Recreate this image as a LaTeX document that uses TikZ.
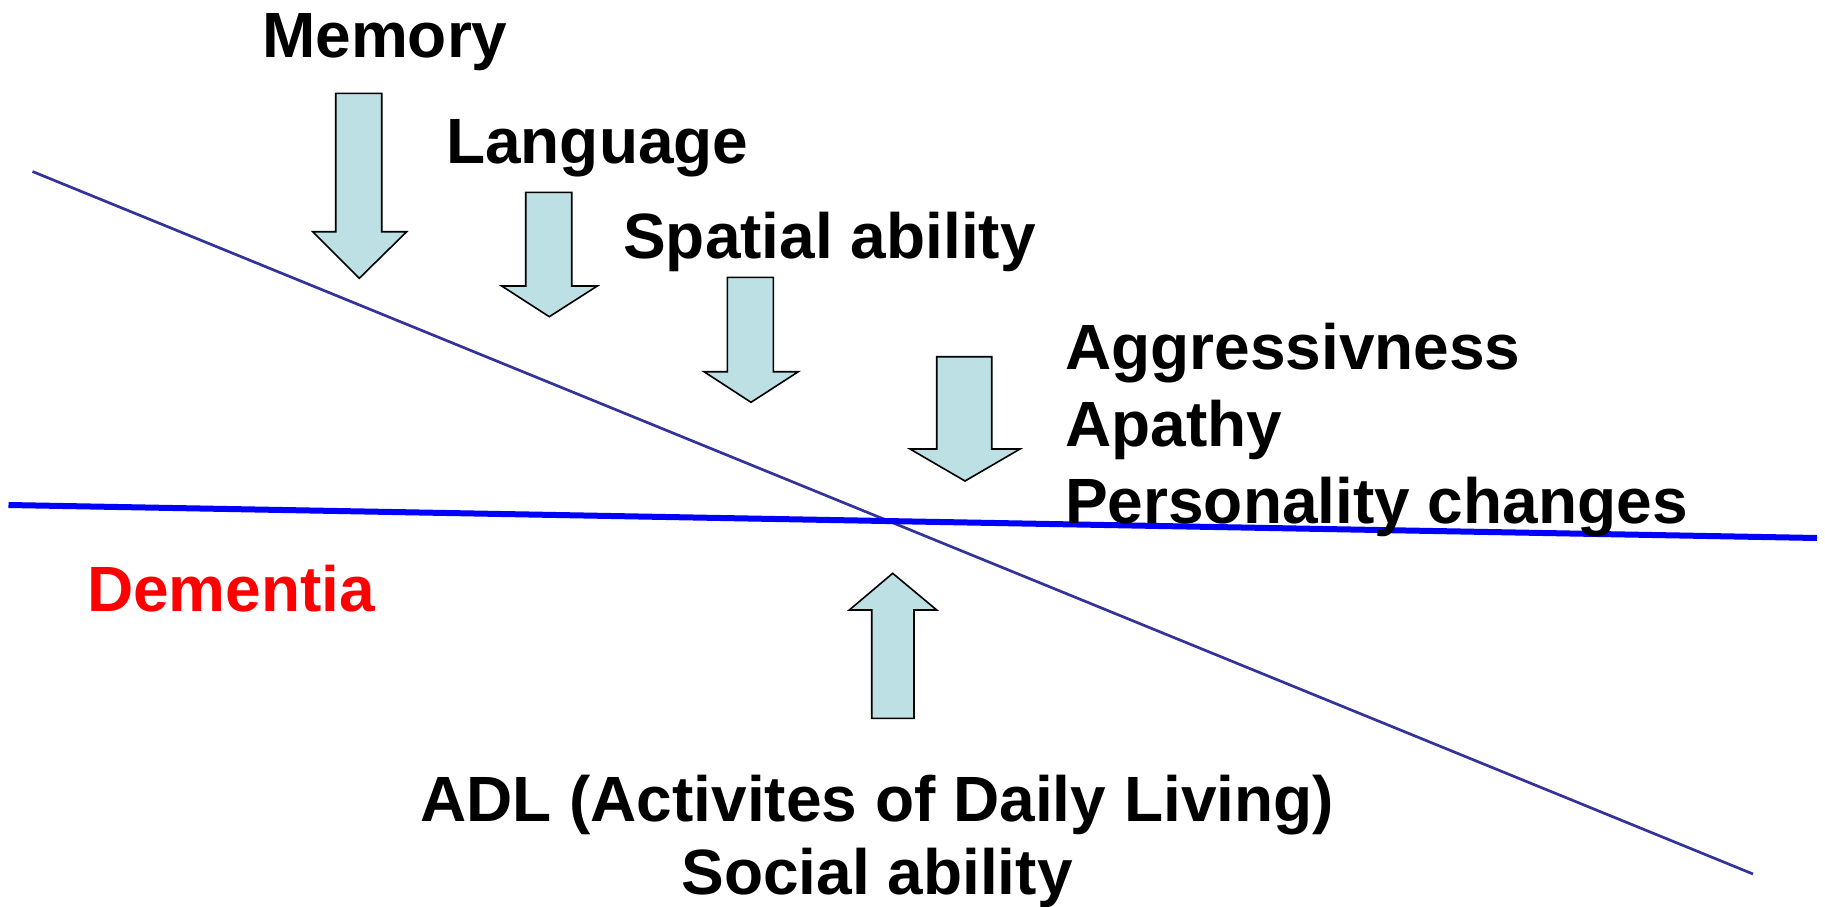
\documentclass[tikz,border=0pt]{standalone}
\usepackage{fontspec}
\setmainfont{Liberation Sans}
\begin{document}
\begin{tikzpicture}[x=1pt,y=-1pt,
  lbl/.style={font=\fontsize{64}{77}\selectfont\bfseries, inner sep=0pt, anchor=base west},
  blockarrow/.style={draw=black, line width=1.6pt, fill={rgb,255:red,188;green,224;blue,227}, line join=miter}]
\useasboundingbox (0,0) rectangle (1825,907);
\fill[white] (0,0) rectangle (1825,907);
% lines
\coordinate (t1) at (32.5,171.5);
\coordinate (t2) at (1753,874);
\coordinate (h1) at (8.5,505);
\coordinate (h2) at (1817,538);
\draw[line width=2.7pt, color={rgb,255:red,51;green,51;blue,153}] (t1) -- (t2);
\draw[line width=6pt, color=blue] (h1) -- (h2);
% down arrows
\draw[blockarrow] (335.7,93.3) -- (381.7,93.3) -- (381.7,231.7) -- (406.7,231.7) -- (359.3,278.3) -- (312.7,231.7) -- (335.7,231.7) -- cycle;
\draw[blockarrow] (525.7,192.3) -- (571.7,192.3) -- (571.7,286) -- (597.3,286) -- (549.3,316.7) -- (501.7,286) -- (525.7,286) -- cycle;
\draw[blockarrow] (727.3,277.3) -- (773.3,277.3) -- (773.3,371.7) -- (798.3,371.7) -- (751,402.3) -- (704,371.7) -- (727.3,371.7) -- cycle;
\draw[blockarrow] (936.7,356.7) -- (991.7,356.7) -- (991.7,449) -- (1020,449) -- (965,481) -- (910,449) -- (936.7,449) -- cycle;
% up arrow
\draw[blockarrow] (871.7,718.3) -- (914,718.3) -- (914,610) -- (936.7,610) -- (892.7,573.3) -- (849.3,610) -- (871.7,610) -- cycle;
% labels
\node[lbl] (mem) at (262,58) {Memory};
\node[lbl] (lang) at (446,163) {Language};
\node[lbl] (spat) at (623,258) {Spatial ability};
\node[lbl] (aggr) at (1065,369) {Aggressivness};
\node[lbl] (apat) at (1065,446) {Apathy};
\node[lbl] (pers) at (1065,523) {Personality changes};
\node[lbl, text=red] (dem) at (87,611) {Dementia};
\node[lbl, anchor=base] (adl) at (877,821) {ADL (Activites of Daily Living)};
\node[lbl, anchor=base] (soc) at (877,894) {Social ability};
\end{tikzpicture}
\end{document}
